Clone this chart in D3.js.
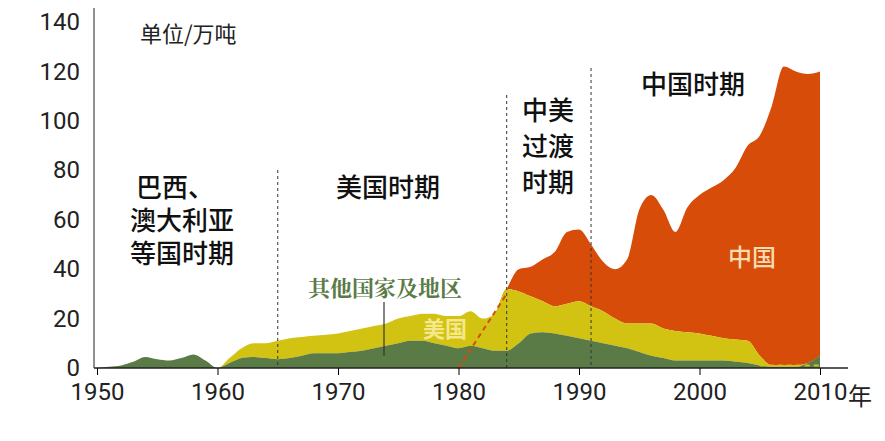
<!DOCTYPE html>
<html><head><meta charset="utf-8">
<script src="https://cdn.jsdelivr.net/npm/d3@7"></script>
<style>body{margin:0;background:#fff}svg{font-family:"Noto Sans CJK SC",sans-serif}</style>
</head><body><div id="chart"></div>
<script>
const years = d3.range(1950, 2011);
// 万吨, per year
const other = [0,0.5,1,2.5,4.5,3.5,3,4,5.5,3,0,2,4,4.5,4,3.5,4,5,6,6,6,6.5,7,8,9,10,11,11,10,9,8,9,8,7,7,10,14,14.5,14,13,12,11,10,9,8,6.5,5,4,3,3,3,3,3,2.5,2,1,0.5,0.5,0.5,2,5];
const usa = [0,0,0,0,0,0,0,0,0,0,0,2,4,5.5,6,7.5,8,7.5,7,7.5,8,8.5,9,9,9,10,10,11,12,12,13,14,12,15,25,21,15,12.5,11,13,15,14,13,11,10,11.5,13,12,12,11.5,11,10,9,9,9,4,0.5,0.5,0.5,0,0];
const china = [0,0,0,0,0,0,0,0,0,0,0,0,0,0,0,0,0,0,0,0,0,0,0,0,0,0,0,0,0,0,0,0,0,0,0,9,12,17,22,29,29,25,20,20,26,46,52,48,40,50.5,56,60,64,69.5,79,89,105,121,119,117,115];
const chinaDashYears = [1980, 1984];
const chinaDashVals = [0, 30];
const usDashYears = [2005, 2010];
const usDashVals = [1, 1];
const yTicks = [0,20,40,60,80,100,120,140];
const xTicks = [1950,1960,1970,1980,1990,2000,2010];
const periods = [1965, 1984, 1991];

const W = 885, H = 441;
const x = d3.scaleLinear().domain([1950, 2010]).range([97, 820]);
const y = d3.scaleLinear().domain([0, 140]).range([368, 22]);

const svg = d3.select("#chart").append("svg").attr("width", W).attr("height", H);

const rows = years.map((yr, i) => ({year: yr, other: other[i], usa: usa[i], china: china[i]}));
const stack = d3.stack().keys(["other", "usa", "china"])(rows);
const colors = {other: "#5a7a46", usa: "#d2c212", china: "#d64c08"};

const area = d3.area()
    .x(d => x(d.data.year))
    .y0(d => y(d[0]))
    .y1(d => y(d[1]))
    .curve(d3.curveMonotoneX);

svg.append("g").selectAll("path")
    .data(stack.slice().reverse())
    .join("path")
    .attr("fill", d => colors[d.key])
    .attr("d", area);

const line = d3.line().x(d => x(d[0])).y(d => y(d[1]));
svg.append("path")
    .attr("d", line(chinaDashYears.map((v, i) => [v, chinaDashVals[i]])))
    .attr("stroke", "#d64c08").attr("stroke-width", 2).attr("stroke-dasharray", "5,4").attr("fill", "none");
svg.append("path")
    .attr("d", line(usDashYears.map((v, i) => [v, usDashVals[i]])))
    .attr("stroke", "#d2c212").attr("stroke-width", 2).attr("stroke-dasharray", "5,4").attr("fill", "none");

// period separators
const tops = [170, 95, 68];
svg.append("g").selectAll("line")
    .data(periods)
    .join("line")
    .attr("x1", d => x(d)).attr("x2", d => x(d))
    .attr("y1", (d, i) => tops[i]).attr("y2", y(0))
    .attr("stroke", "#333").attr("stroke-width", 1).attr("stroke-dasharray", "3,3");

// axes
const yAxis = svg.append("g").attr("transform", `translate(${x(1950) - 3},0)`)
    .call(d3.axisLeft(y).tickValues(yTicks).tickSize(0).tickPadding(14));
yAxis.select(".domain").attr("d", `M0,${y(0)}V8`).attr("stroke", "#222");
yAxis.selectAll("text").attr("font-size", 24).attr("font-family", "Roboto, sans-serif").attr("fill", "#222");

const xAxis = svg.append("g").attr("transform", `translate(0,${y(0)})`)
    .call(d3.axisBottom(x).tickValues(xTicks).tickFormat(d3.format("d")).tickSize(7).tickPadding(8));
xAxis.select(".domain").attr("d", `M${x(1950) - 3},0H848`).attr("stroke", "#222").attr("stroke-width", 1.5);
xAxis.selectAll("text").attr("font-size", 24).attr("font-family", "Roboto, sans-serif").attr("fill", "#222");
svg.append("text").attr("x", 848).attr("y", 405).attr("font-size", 24).attr("fill", "#222").text("年");

// labels
const txt = (t, xx, yy, size, fill, anchor, weight) => svg.append("text")
    .attr("x", xx).attr("y", yy).attr("font-size", size).attr("fill", fill)
    .attr("text-anchor", anchor || "middle").attr("font-weight", weight || 500).text(t);
txt("单位/万吨", 140, 42, 22, "#222", "start", 400);
txt("巴西、", 175, 197, 26, "#111");
txt("澳大利亚", 182, 230, 26, "#111");
txt("等国时期", 182, 263, 26, "#111");
txt("美国时期", 388, 197, 26, "#111");
txt("中美", 548, 120, 26, "#111");
txt("过渡", 548, 156, 26, "#111");
txt("时期", 548, 192, 26, "#111");
txt("中国时期", 693, 94, 26, "#111");
svg.append("text").attr("x", 385).attr("y", 296).attr("font-size", 22).attr("fill", "#5a7a46")
    .attr("text-anchor", "middle").attr("font-family", "Noto Serif CJK SC, serif").attr("font-weight", 700).text("其他国家及地区");
svg.append("text").attr("x", 445).attr("y", 337).attr("font-size", 22).attr("fill", "#f4e88a")
    .attr("text-anchor", "middle").attr("font-weight", 700).text("美国");
svg.append("text").attr("x", 752).attr("y", 266).attr("font-size", 24).attr("fill", "#f6dcb0")
    .attr("text-anchor", "middle").attr("font-weight", 500).text("中国");
svg.append("line").attr("x1", 384).attr("x2", 384).attr("y1", 302).attr("y2", y(5))
    .attr("stroke", "#333").attr("stroke-width", 1.2);
</script></body></html>
